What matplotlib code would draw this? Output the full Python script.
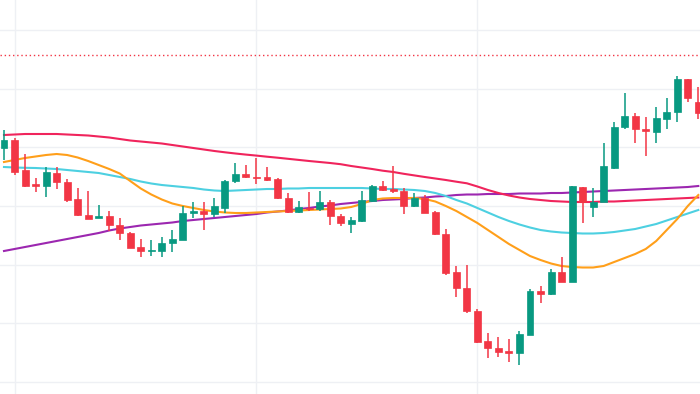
import matplotlib
matplotlib.use("Agg")
import matplotlib.pyplot as plt
import numpy as np

# OHLC data (arbitrary price units)
opens  = [252,260,230,216,214,227,218,201,185,182,184,175,167,153,149,149,157,160,187,189,
          186,192,219,226,223,223,221,202,188,192,191,198,184,176,179,199,214,211,209,194,
          202,188,166,128,112,89,59,52,49,47,65,109,106,128,118,213,193,198,232,273,
          284,271,268,281,288,321,298]
highs  = [270,262,246,222,233,233,221,212,209,195,189,182,168,161,160,163,170,194,198,198,
          202,220,237,235,242,233,222,207,199,208,209,200,186,183,209,215,219,234,212,207,
          205,189,171,134,135,91,67,63,61,69,111,114,131,143,214,213,212,257,278,307,
          287,283,293,302,324,321,313]
lows   = [240,225,213,208,203,211,198,184,181,182,169,160,152,143,144,143,148,160,182,170,
          183,187,217,222,216,219,201,187,187,189,189,175,174,167,178,198,209,207,186,193,
          187,165,125,103,87,57,42,43,38,35,65,97,105,118,118,177,183,198,231,271,
          257,244,257,271,278,298,281]
closes = [260,228,214,214.5,228,218,200,185,181,184,175,167,152,149,150,157,161,187,189,186,
          194,219,226,223,222,220,202,188,193,191,198,184,177,180,200,214,210,209,194,202,
          187,166,127,112,89,58,52,48,47,66,109,106,128,118,214,198,198,234,273,284,
          271,269,282,288,321,302,287]

# Moving averages
ma_orange = [238,240,242,243.5,245,246,245,242.5,239,235,231,226.5,219,211.5,205.5,200.5,196.5,194,192,190,
             188.5,187.5,187,187,187.5,188,188.5,189,189.5,190,190.5,191,191.5,193,196,200,201.5,202,202,202,
             201,198.5,194,189,183,177,170,163,156,150,144,140,136.5,134,133,132.5,132.5,134,138,142,
             146,151,159,170,181,194,205]
ma_cyan = [233,232.5,232.2,232,231.5,231,230,229,228,227,225,223,221,218.5,216.5,215,214,213,212,210.5,
           209.5,209,209.5,210,210.5,211,211,211.5,211.5,212,212,212,212,212,212,211.5,211,211,210.5,210,
           209,207,204,200,196.5,192,187.5,183,179,175.5,172.5,170,168.5,167.5,167,166.5,166.5,167,168,169.5,
           171,173.5,176,179.5,183,186.5,190]
ma_pink = [265,265.5,266,266,266,266,265.5,265,264.5,263.5,262.5,261,259.5,258.5,257.5,256.5,255,253.5,252,250.5,
           249,247.7,246.5,245.4,244.4,243.3,242.3,241.2,240.1,239,238,237,235.8,234,232.5,231,229.3,228,226.2,224.6,
           223,221.5,220,218.3,216.7,213.5,210,207,204.5,202.5,201,200,199,198.5,198,198,198,198.5,198.5,199,
           199.5,200,200.5,201,201.5,202,202.5]
ma_purple = [149,151,153,155,157,159,161,163,165,167,169.5,171.5,173,174.5,175.5,176.5,177.5,179,180,181,
             182,183,184,185,186,187.5,188.5,189.5,191,192,193.5,194.5,196,197,198,199,200,200.5,201,202,
             202.5,203.5,204,205,205.5,205.5,206,206,206,206.5,206.5,206.5,207,207,207.5,208,208.5,209,209.5,210,
             210.5,211,211.5,212,212.5,213,214]

ref_level = 345
h_grid = [18, 77, 135, 194, 253, 311, 370]
v_grid = [1, 24, 45]

UP = "#089981"
DOWN = "#f23645"

fig = plt.figure(figsize=(7, 3.94), dpi=100)
ax = fig.add_axes([0, 0, 1, 1])
ax.set_facecolor("white")

for y in h_grid:
    ax.axhline(y, color="#eef0f4", lw=1, zorder=0)
for x in v_grid:
    ax.axvline(x, color="#eef0f4", lw=1, zorder=0)

ax.axhline(ref_level, color=DOWN, lw=1, ls=(0, (1, 2)), zorder=1)

idx = np.arange(len(opens))
ax.plot(idx, ma_purple, color="#9c27b0", lw=1.5, zorder=2)
ax.plot(idx, ma_pink, color="#f0245c", lw=1.5, zorder=2)
ax.plot(idx, ma_cyan, color="#4dd0e1", lw=1.5, zorder=2)
ax.plot(idx, ma_orange, color="#ff9f1a", lw=1.5, zorder=2)

bw = 0.66
for i, (o, h, l, c) in enumerate(zip(opens, highs, lows, closes)):
    col = UP if c >= o else DOWN
    ax.vlines(i, l, h, color=col, lw=1.1, zorder=3)
    bottom = min(o, c)
    height = max(abs(c - o), 0.8)
    ax.bar(i, height, bottom=bottom, width=bw, color=col, edgecolor=col, lw=0.5, zorder=4)

ax.set_xlim(-0.38, 66.16)
ax.set_ylim(6, 400)
for s in ax.spines.values():
    s.set_visible(False)
ax.set_xticks([])
ax.set_yticks([])

fig.savefig("out.png", dpi=100)
